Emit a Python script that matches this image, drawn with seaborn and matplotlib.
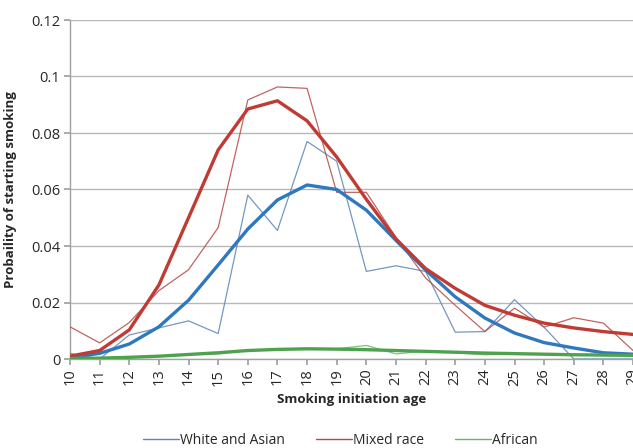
import numpy as np
import pandas as pd
import matplotlib
matplotlib.use("Agg")
import matplotlib.pyplot as plt
import seaborn as sns

ages = list(range(10, 30))

white_asian_raw = [0.002, 0.0, 0.0085, 0.011, 0.0135, 0.009, 0.058, 0.0455, 0.077, 0.070,
                   0.031, 0.033, 0.031, 0.0095, 0.0097, 0.021, 0.0112, 0.0, 0.0, 0.0]
mixed_raw = [0.0114, 0.0057, 0.0129, 0.0242, 0.0316, 0.0465, 0.0917, 0.0963, 0.0958, 0.059,
             0.059, 0.043, 0.0287, 0.019, 0.0097, 0.018, 0.0113, 0.0146, 0.0127, 0.003]
african_raw = [0.0, 0.0, 0.0005, 0.001, 0.0016, 0.0018, 0.0032, 0.0035, 0.0038, 0.0036,
               0.0048, 0.0018, 0.0028, 0.0022, 0.0015, 0.0018, 0.0016, 0.0015, 0.0012, 0.0012]

white_asian_fit = [0.0005, 0.002, 0.0053, 0.0114, 0.0208, 0.0333, 0.046, 0.0563, 0.0616, 0.0600,
                   0.0527, 0.042, 0.0315, 0.022, 0.0145, 0.0092, 0.0058, 0.0039, 0.0022, 0.0017]
mixed_fit = [0.001, 0.003, 0.0103, 0.0262, 0.050, 0.074, 0.0885, 0.0914, 0.0843, 0.0715,
             0.0565, 0.0425, 0.032, 0.025, 0.019, 0.0155, 0.0127, 0.011, 0.0097, 0.0087]
african_fit = [0.0002, 0.0003, 0.0006, 0.001, 0.0016, 0.0022, 0.003, 0.0034, 0.0036, 0.0035,
               0.0033, 0.003, 0.0027, 0.0024, 0.0021, 0.0019, 0.0017, 0.0015, 0.0014, 0.0013]

group_names = ["White and Asian", "Mixed race", "African"]
thin_colors = ["#5b86b8", "#b44a45", "#6ab46a"]
thick_colors = ["#2f78bd", "#bf3b33", "#4ea24e"]

sns.set_theme(style="white")
plt.rcParams['font.family'] = ['Open Sans', 'DejaVu Sans']

fig = plt.figure(figsize=(6.33, 4.48), dpi=100)
ax = fig.add_axes([70/633, (448-359)/448, (633-70)/633 + 0.001, (359-20)/448])

raws = [white_asian_raw, mixed_raw, african_raw]
fits = [white_asian_fit, mixed_fit, african_fit]

for name, raw, fit, tc, kc in zip(group_names, raws, fits, thin_colors, thick_colors):
    df_raw = pd.DataFrame({"age": ages, "p": raw})
    df_fit = pd.DataFrame({"age": ages, "p": fit})
    sns.lineplot(data=df_raw, x="age", y="p", ax=ax, color=tc, linewidth=0.9,
                 alpha=0.85, label=name, zorder=3)
    sns.lineplot(data=df_fit, x="age", y="p", ax=ax, color=kc, linewidth=2.4,
                 label="_nolegend_", zorder=4)

ax.set_xlim(10, 29.02)
ax.set_ylim(0, 0.12)
ax.set_yticks([0, 0.02, 0.04, 0.06, 0.08, 0.1, 0.12])
ax.set_yticklabels(["0", "0.02", "0.04", "0.06", "0.08", "0.1", "0.12"])
ax.set_xticks(ages)
ax.set_xticklabels([str(a) for a in ages], rotation=90)
ax.tick_params(axis="x", labelsize=10.5, length=4, color="#a0a0a0", direction="out", bottom=True, pad=3)
ax.tick_params(axis="y", labelsize=10.5, length=4, color="#a0a0a0", direction="out", left=True, pad=3)
ax.grid(axis="y", color="#b8b8b8", linewidth=1.0)
ax.grid(axis="x", visible=False)
for s in ["top", "right"]:
    ax.spines[s].set_visible(False)
for s in ["left", "bottom"]:
    ax.spines[s].set_color("#a0a0a0")
    ax.spines[s].set_linewidth(1.0)

ax.set_xlabel("Smoking initiation age", fontsize=9.5, fontweight="bold", labelpad=5)
ax.set_ylabel("Probaility of starting smoking", fontsize=9.5, fontweight="bold", labelpad=10)

leg = ax.legend(loc="center", bbox_to_anchor=(0.48, -0.239), ncol=3,
                frameon=False, fontsize=10, handlelength=2.6, handletextpad=0.1,
                columnspacing=2.2, borderpad=0.1)
for line in leg.get_lines():
    line.set_linewidth(1.0)
    line.set_alpha(1.0)

fig.savefig("out.png", dpi=100)
